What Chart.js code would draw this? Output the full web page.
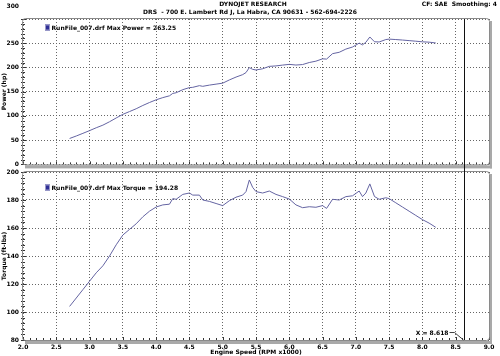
<!DOCTYPE html>
<html>
<head>
<meta charset="utf-8">
<script src="https://cdn.jsdelivr.net/npm/chart.js@4.4.1/dist/chart.umd.min.js"></script>
<style>
  html, body { margin: 0; padding: 0; background: #fff; }
  #wrap { position: relative; width: 500px; height: 356px; overflow: hidden; background: #fff; }
  canvas { position: absolute; left: 0; }
  #cTop { top: 0; }
  #cBot { top: 160px; }
</style>
</head>
<body>
<div id="wrap">
  <canvas id="cTop" width="500" height="172"></canvas>
  <canvas id="cBot" width="500" height="196"></canvas>
</div>
<script>
// ---- data ----
const rpm = [2.7, 2.8, 2.9, 3.0, 3.1, 3.2, 3.3, 3.4, 3.5, 3.6, 3.7, 3.8, 3.9, 4.0, 4.1, 4.2, 4.25, 4.3, 4.4, 4.5,
  4.55, 4.65, 4.7, 4.8, 4.9, 5.0, 5.1, 5.2, 5.3, 5.35, 5.4, 5.45, 5.5, 5.6, 5.7, 5.8, 5.9, 6.0, 6.1, 6.2,
  6.3, 6.4, 6.5, 6.56, 6.65, 6.75, 6.85, 6.95, 7.05, 7.1, 7.15, 7.21, 7.28, 7.35, 7.45, 7.5, 7.6, 7.7, 7.8, 7.9,
  8.0, 8.1, 8.2];
const torque = [104, 110, 116, 122, 128, 133, 140, 148, 155, 159, 163, 168, 172, 175, 176.5, 177, 181, 180.5, 184, 185,
  183.5, 183.5, 180, 179, 177.5, 176, 179.5, 182, 183.5, 186, 194.3, 189, 186, 185, 186.4, 184, 182.4, 180.7, 176.5, 174.5,
  175.2, 174.8, 176, 174, 180.5, 180, 182.4, 183, 186.4, 182.4, 185, 191.5, 182.5, 180.5, 181.6, 181, 178, 175, 172, 169,
  166, 163.5, 160.5];
const power = [53.5, 58.6, 64.1, 69.7, 75.6, 81.0, 88.0, 95.8, 103.3, 109.0, 114.8, 121.6, 127.7, 133.3, 137.8, 141.5, 146.5, 147.8, 154.2, 158.5,
  159.0, 162.5, 161.1, 163.6, 165.6, 167.6, 174.3, 180.2, 185.2, 189.5, 199.8, 196.1, 194.8, 197.3, 202.3, 203.2, 204.9, 206.4, 205.0, 206.0,
  210.2, 213.0, 217.8, 217.3, 228.5, 231.3, 237.9, 242.2, 250.2, 246.6, 251.9, 262.9, 253.0, 252.6, 257.6, 258.5, 257.6, 256.6, 255.4, 254.2,
  252.9, 252.2, 250.6];
const xRange = [2.0, 9.0];
const xStep = 0.5;
const powerRange = [0, 300];
const powerStep = 50;
const torqueRange = [80, 200];
const torqueStep = 20;
const cursorX = 8.618;
const headerLines = ["DYNOJET RESEARCH", "DRS  - 700 E. Lambert Rd J, La Habra, CA 90631 - 562-694-2226"];
const headerRight = "CF: SAE  Smoothing: 4";
const powerLegend = "RunFile_007.drf Max Power = 263.25";
const torqueLegend = "RunFile_007.drf Max Torque = 194.28";
const cursorLabel = "X = 8.618";

// ---- styling ----
const FAM = "'DejaVu Sans', Verdana, sans-serif";
const font6 = { family: FAM, size: 6, weight: 'bold' };
const LINE = '#6464a2';
const GRID = '#666666';

function fontStr(sz) { return 'bold ' + sz + 'px ' + FAM; }

function drawFrame(ctx, a) {
  ctx.save();
  ctx.fillStyle = '#a9a9a9';
  ctx.fillRect(a.left + 2, a.bottom + 1, a.right - a.left + 1, 3);
  ctx.fillRect(a.right + 1, a.top + 2, 2, a.bottom - a.top + 2);
  ctx.strokeStyle = '#8a8a8a';
  ctx.lineWidth = 1;
  const x = a.left - 0.5, y = a.top - 0.5, w = a.right - a.left + 1, h = a.bottom - a.top + 1, r = 3;
  ctx.beginPath();
  ctx.moveTo(x + r, y);
  ctx.lineTo(x + w - r, y); ctx.quadraticCurveTo(x + w, y, x + w, y + r);
  ctx.lineTo(x + w, y + h - r); ctx.quadraticCurveTo(x + w, y + h, x + w - r, y + h);
  ctx.lineTo(x + r, y + h); ctx.quadraticCurveTo(x, y + h, x, y + h - r);
  ctx.lineTo(x, y + r); ctx.quadraticCurveTo(x, y, x + r, y);
  ctx.stroke();
  ctx.restore();
}

function drawMinorTicks(chart, yMin, yMax, yMinor, yMajor) {
  const ctx = chart.ctx, a = chart.chartArea, xs = chart.scales.x, ys = chart.scales.y;
  ctx.save();
  ctx.strokeStyle = '#333';
  ctx.lineWidth = 1;
  ctx.beginPath();
  for (let i = 0; i <= Math.round((xRange[1] - xRange[0]) * 10); i++) {
    const v = xRange[0] + i / 10;
    const px = Math.round(xs.getPixelForValue(v)) + 0.5;
    const len = (i % 5 === 0) ? 3 : 2;
    ctx.moveTo(px, a.bottom);
    ctx.lineTo(px, a.bottom - len);
  }
  const n = Math.round((yMax - yMin) / yMinor);
  for (let i = 0; i <= n; i++) {
    const v = yMin + i * yMinor;
    const py = Math.round(ys.getPixelForValue(v)) + 0.5;
    const major = Math.abs((v - yMin) % yMajor) < 1e-6;
    ctx.moveTo(a.left - 2, py);
    ctx.lineTo(a.left + (major ? 3 : 2), py);
  }
  ctx.stroke();
  ctx.restore();
}

function drawLegend(ctx, x, y, text) {
  ctx.save();
  ctx.fillStyle = '#2e2e96';
  ctx.fillRect(x, y - 3, 5, 6);
  ctx.strokeStyle = '#9a9ac8';
  ctx.lineWidth = 1;
  ctx.strokeRect(x + 0.5, y - 2.5, 4, 5);
  ctx.fillStyle = '#000';
  ctx.font = fontStr(6);
  ctx.textAlign = 'left';
  ctx.textBaseline = 'middle';
  ctx.fillText(text, x + 6.5, y + 0.5);
  ctx.restore();
}

const topPlugin = {
  id: 'topDeco',
  beforeDatasetsDraw(chart) {
    drawMinorTicks(chart, powerRange[0], powerRange[1], 10, 50);
  },
  afterDraw(chart) {
    const ctx = chart.ctx, a = chart.chartArea, xs = chart.scales.x;
    drawFrame(ctx, a);
    const cx = Math.round(xs.getPixelForValue(cursorX)) + 0.5;
    ctx.save();
    ctx.strokeStyle = '#111';
    ctx.lineWidth = 1;
    ctx.beginPath();
    ctx.moveTo(cx, a.top);
    ctx.lineTo(cx, chart.height);
    ctx.stroke();
    ctx.fillStyle = '#000';
    ctx.font = fontStr(6);
    ctx.textBaseline = 'middle';
    ctx.textAlign = 'center';
    ctx.fillText(headerLines[0], 253, 4.5);
    ctx.fillText(headerLines[1], 250, 12.5);
    ctx.textAlign = 'right';
    ctx.fillText(headerRight, 497, 4.5);
    ctx.fillText(String(powerRange[1]), 19, 6.5);
    ctx.restore();
    drawLegend(ctx, 45, 27.5, powerLegend);
  }
};

const botPlugin = {
  id: 'botDeco',
  beforeDatasetsDraw(chart) {
    drawMinorTicks(chart, torqueRange[0], torqueRange[1], 4, 20);
  },
  afterDraw(chart) {
    const ctx = chart.ctx, a = chart.chartArea, xs = chart.scales.x;
    drawFrame(ctx, a);
    const cx = Math.round(xs.getPixelForValue(cursorX)) + 0.5;
    ctx.save();
    ctx.strokeStyle = '#111';
    ctx.lineWidth = 1;
    ctx.beginPath();
    ctx.moveTo(cx, 0);
    ctx.lineTo(cx, a.bottom);
    ctx.stroke();
    ctx.fillStyle = '#000';
    ctx.font = fontStr(6);
    ctx.textAlign = 'right';
    ctx.textBaseline = 'middle';
    ctx.fillText(cursorLabel, cx - 16, a.bottom - 7);
    ctx.strokeStyle = '#444';
    ctx.beginPath();
    ctx.moveTo(cx - 15, a.bottom - 7.5);
    ctx.lineTo(cx - 10, a.bottom - 7.5);
    ctx.lineTo(cx - 1, a.bottom);
    ctx.stroke();
    ctx.restore();
    drawLegend(ctx, 45, 187.5 - 160, torqueLegend);
  }
};

function xScale(showTicks, h) {
  return {
    type: 'linear', min: xRange[0], max: xRange[1],
    ticks: {
      display: showTicks, stepSize: xStep, color: '#000', font: font6, padding: 4,
      maxRotation: 0, autoSkip: false,
      callback: v => Number(v).toFixed(1)
    },
    grid: { color: GRID, lineWidth: 1, drawTicks: false },
    border: { display: false, dash: [1, 2] },
    title: { display: showTicks, text: 'Engine Speed (RPM x1000)', color: '#000', font: font6, padding: 0 },
    afterFit(s) { s.height = h; }
  };
}

function yScale(range, step, title, hideTop) {
  return {
    min: range[0], max: range[1],
    ticks: {
      stepSize: step, color: '#000', font: font6, padding: 4,
      callback: v => (hideTop && v === range[1]) ? '' : String(v)
    },
    grid: { color: GRID, lineWidth: 1, drawTicks: false },
    border: { display: false, dash: [1, 2] },
    title: { display: true, text: title, color: '#000', font: font6, padding: { top: 1, bottom: 0 } },
    afterFit(s) { s.width = 23; }
  };
}

function series(ys) { return rpm.map((r, i) => ({ x: r, y: ys[i] })); }

const common = {
  responsive: false,
  animation: false,
  devicePixelRatio: 1,
  plugins: { legend: { display: false }, tooltip: { enabled: false }, title: { display: false } },
  elements: { point: { radius: 0 }, line: { tension: 0, borderWidth: 1 } }
};

new Chart(document.getElementById('cTop'), {
  type: 'line',
  data: { datasets: [{ data: series(power), borderColor: LINE, borderWidth: 1, fill: false }] },
  options: Object.assign({}, common, {
    layout: { padding: { left: 0, right: 11, top: 19, bottom: 0 } },
    scales: { x: xScale(false, 4), y: yScale(powerRange, powerStep, 'Power (hp)', true) }
  }),
  plugins: [topPlugin]
});

new Chart(document.getElementById('cBot'), {
  type: 'line',
  data: { datasets: [{ data: series(torque), borderColor: LINE, borderWidth: 1, fill: false }] },
  options: Object.assign({}, common, {
    layout: { padding: { left: 0, right: 11, top: 12, bottom: 0 } },
    scales: { x: xScale(true, 16), y: yScale(torqueRange, torqueStep, 'Torque (ft-lbs)', false) }
  }),
  plugins: [botPlugin]
});
</script>
</body>
</html>
